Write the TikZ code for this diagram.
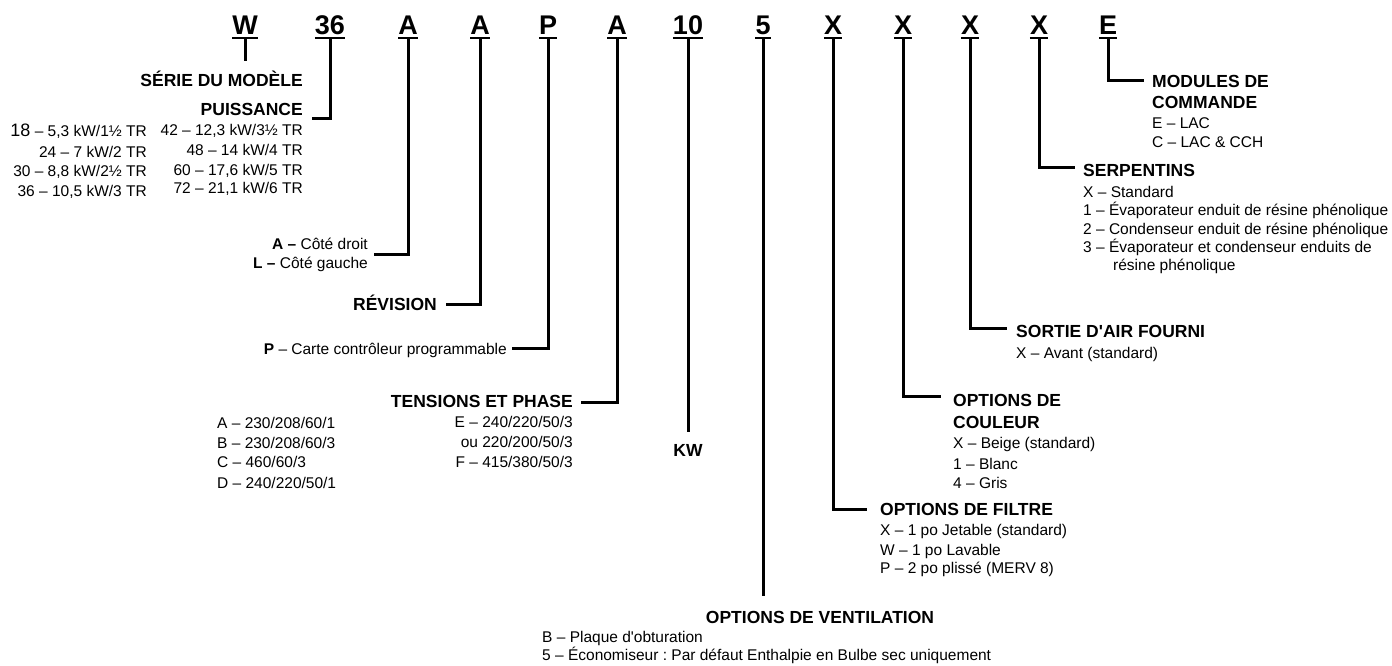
\documentclass[tikz,border=0pt]{standalone}
\usepackage{fontspec}
\setmainfont{Liberation Sans}
\frenchspacing
\begin{document}
\begin{tikzpicture}[x=1pt,y=-1pt,
  code/.style={font=\fontsize{27}{27}\selectfont\bfseries, inner sep=0pt, anchor=base},
  head/.style={font=\fontsize{17.5}{17.5}\selectfont\bfseries, inner sep=0pt},
  txt/.style={font=\fontsize{15.5}{15.5}\selectfont, inner sep=0pt},
  conn/.style={line width=3pt, line cap=rect},
  uline/.style={line width=2pt}]
\useasboundingbox[fill=white] (0,0) rectangle (1392,665);

% codes
\foreach \t/\x [count=\i] in {W/245,36/330,A/408,A/480,P/548,A/617,10/688,5/763,X/833,X/903,X/970,X/1039,E/1108}{
  \node[code] (c\i) at (\x,34) {\t};
  \draw[uline] ([yshift=-4pt]c\i.base west) -- ([yshift=-4pt]c\i.base east);
  \coordinate (u\i) at ([yshift=-4pt]c\i.base);
}

% left: serie & puissance
\node[head, anchor=base east] (serie) at (303,86) {SÉRIE DU MODÈLE};
\coordinate (wend) at (245,61);
\draw[conn, line cap=butt] (u1) -- (wend);
\node[head, anchor=base east] (puis) at (303,115) {PUISSANCE};
\draw[conn] (u2) |- ([xshift=10pt,yshift=-3pt]puis.base east);
\node[txt, anchor=base east] (pa1) at (147,136) {{\fontsize{18}{18}\selectfont 18} – 5,3 kW/1½ TR};
\node[txt, anchor=base east] (pa2) at (147,157) {24 – 7 kW/2 TR};
\node[txt, anchor=base east] (pa3) at (147,176) {30 – 8,8 kW/2½ TR};
\node[txt, anchor=base east] (pa4) at (147,196) {36 – 10,5 kW/3 TR};
\node[txt, anchor=base east] (pb1) at (303,135) {42 – 12,3 kW/3½ TR};
\node[txt, anchor=base east] (pb2) at (303,155) {48 – 14 kW/4 TR};
\node[txt, anchor=base east] (pb3) at (303,175) {60 – 17,6 kW/5 TR};
\node[txt, anchor=base east] (pb4) at (303,193) {72 – 21,1 kW/6 TR};

% cote
\node[txt, anchor=base east] (cote1) at (368,249) {\textbf{A –} Côté droit};
\node[txt, anchor=base east] (cote2) at (368,268) {\textbf{L –} Côté gauche};
\draw[conn] (u3) |- ([xshift=7pt,yshift=-5pt]cote1.base east);

% revision
\node[head, anchor=base east] (rev) at (437,310) {RÉVISION};
\draw[conn] (u4) |- ([xshift=10pt,yshift=6pt]rev.base east);

% carte
\node[txt, anchor=base east] (carte) at (507,354) {\textbf{P} – Carte contrôleur programmable};
\draw[conn] (u5) |- ([xshift=6pt,yshift=6pt]carte.base east);

% tensions
\node[head, anchor=base east] (tens) at (573,407) {TENSIONS ET PHASE};
\draw[conn] (u6) |- ([xshift=9pt,yshift=5pt]tens.base east);
\node[txt, anchor=base east] (te1) at (573,427) {E – 240/220/50/3};
\node[txt, anchor=base east] (te2) at (573,447) {ou 220/200/50/3};
\node[txt, anchor=base east] (te3) at (573,467) {F – 415/380/50/3};
\node[txt, anchor=base west] (ta1) at (217,428) {A – 230/208/60/1};
\node[txt, anchor=base west] (ta2) at (217,448) {B – 230/208/60/3};
\node[txt, anchor=base west] (ta3) at (217,467) {C – 460/60/3};
\node[txt, anchor=base west] (ta4) at (217,488) {D – 240/220/50/1};

% kw
\node[head, anchor=base] (kw) at (688,456) {KW};
\coordinate (kwend) at (688,432);
\draw[conn, line cap=butt] (u7) -- (kwend);

% ventilation
\node[head, anchor=base] (vent) at (820,623) {OPTIONS DE VENTILATION};
\coordinate (ventend) at (763,596);
\draw[conn, line cap=butt] (u8) -- (ventend);
\node[txt, anchor=base west] (v1) at (542,642) {B – Plaque d\textquotesingle obturation};
\node[txt, anchor=base west] (v2) at (542,660) {5 – Économiseur : Par défaut Enthalpie en Bulbe sec uniquement};

% filtre
\node[head, anchor=base west] (filt) at (880,515) {OPTIONS DE FILTRE};
\draw[conn] (u9) |- ([xshift=-15pt,yshift=6pt]filt.base west);
\node[txt, anchor=base west] (f1) at (880,535) {X – 1 po Jetable (standard)};
\node[txt, anchor=base west] (f2) at (880,555) {W – 1 po Lavable};
\node[txt, anchor=base west] (f3) at (880,573) {P – 2 po plissé (MERV 8)};

% couleur
\node[head, anchor=base west] (coul) at (953,406) {OPTIONS DE};
\node[head, anchor=base west] (coul2) at (953,428) {COULEUR};
\draw[conn] (u10) |- ([xshift=-14pt,yshift=10pt]coul.base west);
\node[txt, anchor=base west] (k1) at (953,448) {X – Beige (standard)};
\node[txt, anchor=base west] (k2) at (953,469) {1 – Blanc};
\node[txt, anchor=base west] (k3) at (953,488) {4 – Gris};

% sortie
\node[head, anchor=base west] (sort) at (1016,337) {SORTIE D\textquotesingle AIR FOURNI};
\draw[conn] (u11) |- ([xshift=-11pt,yshift=9pt]sort.base west);
\node[txt, anchor=base west] (s1) at (1016,358) {X – Avant (standard)};

% serpentins
\node[head, anchor=base west] (serp) at (1083,176) {SERPENTINS};
\draw[conn] (u12) |- ([xshift=-10pt,yshift=9pt]serp.base west);
\node[txt, anchor=base west] (sp1) at (1083,197) {X – Standard};
\node[txt, anchor=base west] (sp2) at (1083,215) {1 – Évaporateur enduit de résine phénolique};
\node[txt, anchor=base west] (sp3) at (1083,234) {2 – Condenseur enduit de résine phénolique};
\node[txt, anchor=base west] (sp4) at (1083,252) {3 – Évaporateur et condenseur enduits de};
\node[txt, anchor=base west] (sp5) at (1113,270) {résine phénolique};

% modules
\node[head, anchor=base west] (mod) at (1152,87) {MODULES DE};
\node[head, anchor=base west] (mod2) at (1152,108) {COMMANDE};
\draw[conn] (u13) |- ([xshift=-10pt,yshift=7pt]mod.base west);
\node[txt, anchor=base west] (m1) at (1152,128) {E – LAC};
\node[txt, anchor=base west] (m2) at (1152,147) {C – LAC \& CCH};
\end{tikzpicture}
\end{document}
